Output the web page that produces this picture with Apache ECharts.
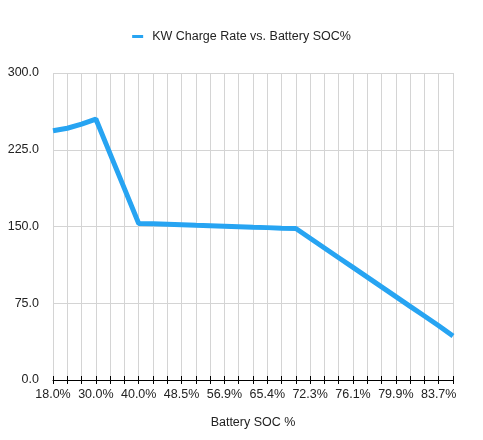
<!DOCTYPE html>
<html>
<head>
<meta charset="utf-8">
<script src="https://cdn.jsdelivr.net/npm/echarts@6/dist/echarts.min.js"></script>
<style>html,body{margin:0;padding:0;background:#fff}#c{width:483px;height:440px}</style>
</head>
<body>
<div id="c"></div>
<script>
var categories = ['18.0%','22.0%','26.0%','30.0%','33.3%','36.7%','40.0%','42.8%','45.7%','48.5%','51.3%','54.1%','56.9%','59.7%','62.6%','65.4%','67.7%','70.0%','72.3%','73.6%','74.8%','76.1%','77.4%','78.6%','79.9%','81.2%','82.4%','83.7%','85.0%'];
var kwValues = [243.5,246,250,255,221,187,153,152.6,152.2,151.7,151.2,150.8,150.3,149.8,149.3,148.9,148.4,148,138.5,129,119.5,110,100.5,91,81.5,72,62.5,53,43];
var seriesName = 'KW Charge Rate vs. Battery SOC%';
var xAxisName = 'Battery SOC %';

var chart = echarts.init(document.getElementById('c'));
chart.setOption({
  animation: false,
  legend: {
    top: 25, left: 'center',
    icon: 'rect', itemWidth: 11, itemHeight: 3,
    textStyle: { fontSize: 12.5, color: '#222', padding: [0, 0, 0, 4], fontFamily: 'Liberation Sans, Arial, sans-serif' },
    data: [seriesName]
  },
  grid: { left: 53, right: 30, top: 73, bottom: 60 },
  xAxis: [{
    type: 'category', data: categories, boundaryGap: false,
    name: xAxisName, nameLocation: 'middle', nameGap: 36,
    nameTextStyle: { fontSize: 12.5, color: '#222', fontFamily: 'Liberation Sans, Arial, sans-serif' },
    axisLine: { lineStyle: { color: '#000', width: 1 } },
    axisTick: { interval: 0, length: 4, lineStyle: { color: '#000' } },
    axisLabel: { interval: 2, fontSize: 12.5, color: '#222', margin: 8, fontFamily: 'Liberation Sans, Arial, sans-serif' },
    splitLine: { show: true, interval: 0, lineStyle: { color: '#d4d4d4' } }
  }, {
    type: 'category', data: categories, boundaryGap: false, position: 'bottom',
    axisLine: { show: false },
    axisTick: { interval: 0, inside: true, length: 4, lineStyle: { color: '#000' } },
    axisLabel: { show: false },
    splitLine: { show: false }
  }],
  yAxis: {
    type: 'value', min: 0, max: 300, interval: 75,
    axisLine: { show: false }, axisTick: { show: false },
    axisLabel: { fontSize: 12.5, color: '#222', margin: 14, formatter: function(v){ return v.toFixed(1); }, fontFamily: 'Liberation Sans, Arial, sans-serif' },
    splitLine: { lineStyle: { color: '#d4d4d4' } }
  },
  series: [{
    name: seriesName, type: 'line', data: kwValues,
    showSymbol: false, symbol: 'none',
    lineStyle: { color: '#27a4f2', width: 5 },
    itemStyle: { color: '#27a4f2' }
  }]
});
</script>
</body>
</html>
